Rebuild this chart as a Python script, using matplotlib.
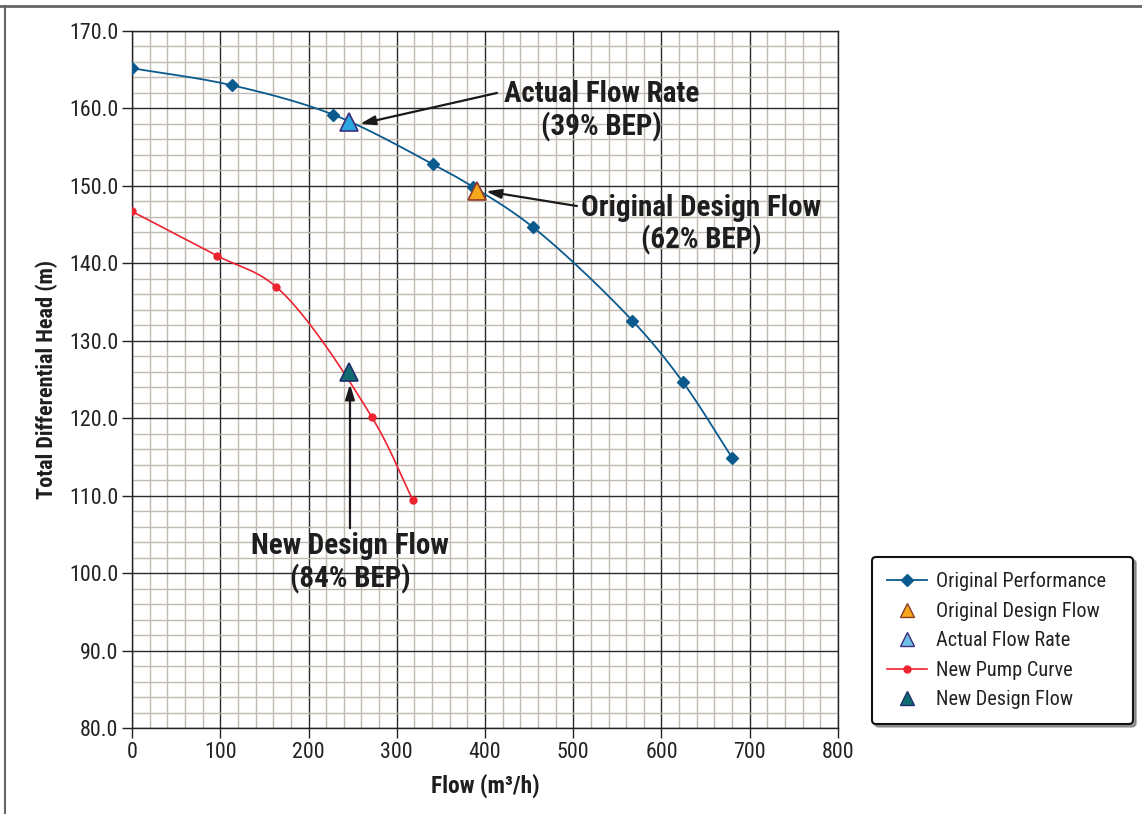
import numpy as np
import matplotlib
matplotlib.use("Agg")
import matplotlib.pyplot as plt
from matplotlib import font_manager as fm
from matplotlib.lines import Line2D
from matplotlib.ticker import MultipleLocator

# ---------------- data ----------------
orig_flow = [0, 113, 228, 341, 386, 454, 567, 624, 680]
orig_head = [165.2, 163.0, 159.2, 152.8, 149.9, 144.7, 132.6, 124.7, 114.9]

new_flow = [0, 96, 163, 272, 318]
new_head = [146.7, 141.0, 137.0, 120.1, 109.5]

orig_design = (391, 149.4)
actual_rate = (246, 158.2)
new_design = (246, 126.0)

legend_labels = ["Original Performance", "Original Design Flow", "Actual Flow Rate",
                 "New Pump Curve", "New Design Flow"]
x_ticks = [0, 100, 200, 300, 400, 500, 600, 700, 800]
y_ticks = [80, 90, 100, 110, 120, 130, 140, 150, 160, 170]

# ---------------- fonts ----------------
names = {f.name for f in fm.fontManager.ttflist}
FONT, STRETCH, SCALE = "DejaVu Sans", "condensed", 0.87
for cand in ["Roboto Condensed", "Liberation Sans Narrow", "Open Sans Condensed"]:
    if cand in names:
        FONT, STRETCH, SCALE = cand, "normal", 1.0
        break
plt.rcParams["font.family"] = [FONT, "DejaVu Sans"]


def fs(v):
    return v * SCALE


def smooth(xs, ys, n=40, alpha=0.5):
    """Centripetal Catmull-Rom smoothing of the drawn line through the given points."""
    P = np.column_stack([np.asarray(xs, float) / 800.0 * 706,
                         np.asarray(ys, float) / 90.0 * 697])
    P = np.vstack([2 * P[0] - P[1], P, 2 * P[-1] - P[-2]])
    out = []
    for i in range(1, len(P) - 2):
        p0, p1, p2, p3 = P[i - 1], P[i], P[i + 1], P[i + 2]
        t0 = 0.0
        t1 = t0 + np.linalg.norm(p1 - p0) ** alpha
        t2 = t1 + np.linalg.norm(p2 - p1) ** alpha
        t3 = t2 + np.linalg.norm(p3 - p2) ** alpha
        t = np.linspace(t1, t2, n, endpoint=False)[:, None]
        a1 = (t1 - t) / (t1 - t0) * p0 + (t - t0) / (t1 - t0) * p1
        a2 = (t2 - t) / (t2 - t1) * p1 + (t - t1) / (t2 - t1) * p2
        a3 = (t3 - t) / (t3 - t2) * p2 + (t - t2) / (t3 - t2) * p3
        b1 = (t2 - t) / (t2 - t0) * a1 + (t - t0) / (t2 - t0) * a2
        b2 = (t3 - t) / (t3 - t1) * a2 + (t - t1) / (t3 - t1) * a3
        c = (t2 - t) / (t2 - t1) * b1 + (t - t1) / (t2 - t1) * b2
        out.append(c)
    out.append(P[-2][None, :])
    out = np.vstack(out)
    return out[:, 0] / 706 * 800.0, out[:, 1] / 697 * 90.0


W, H = 1142, 814
fig = plt.figure(figsize=(W / 100, H / 100), dpi=100)
ax = fig.add_axes([132 / W, 1 - 728 / H, (838 - 132) / W, (728 - 31) / H])

BLUE = "#0b5a8e"
RED = "#ee2330"

# grid
ax.set_xlim(0, 800)
ax.set_ylim(80, 170)
ax.xaxis.set_major_locator(MultipleLocator(100))
ax.yaxis.set_major_locator(MultipleLocator(10))
ax.xaxis.set_minor_locator(MultipleLocator(20))
ax.yaxis.set_minor_locator(MultipleLocator(2))
ax.grid(which="minor", color="#c2b9b0", linewidth=1.0, zorder=0)
ax.grid(which="major", color="#2b2b2b", linewidth=1.0, zorder=0.5)
ax.set_axisbelow(True)
ax.tick_params(which="minor", length=0)
ax.tick_params(which="major", length=7, width=1, color="#222222", pad=3,
               labelsize=fs(15.8), labelcolor="#222222")
for s in ax.spines.values():
    s.set_color("#222222")
    s.set_linewidth(1.0)

ax.set_xticks(x_ticks)
ax.set_yticks(y_ticks)
ax.set_xticklabels([str(v) for v in x_ticks], fontstretch=STRETCH)
ax.set_yticklabels([f"{v:.1f}" for v in y_ticks], fontstretch=STRETCH)

# curves
sx, sy = smooth(orig_flow, orig_head)
ax.plot(sx, sy, color=BLUE, linewidth=1.3, zorder=3)
ax.plot(orig_flow, orig_head, linestyle="none", marker="D", markersize=6,
        color=BLUE, zorder=4)
rx, ry = smooth(new_flow, new_head)
ax.plot(rx, ry, color=RED, linewidth=1.2, zorder=3)
ax.plot(new_flow, new_head, linestyle="none", marker="o", markersize=5,
        color=RED, zorder=4)

ax.plot(*orig_design, marker="^", markersize=13, markerfacecolor="#f6a81c",
        markeredgecolor="#8e3b2b", markeredgewidth=1.2, linestyle="none", zorder=5)
ax.plot(*actual_rate, marker="^", markersize=13, markerfacecolor="#2aa6e0",
        markeredgecolor="#3b2f7d", markeredgewidth=1.2, linestyle="none", zorder=5)
ax.plot(*new_design, marker="^", markersize=13, markerfacecolor="#0f6d72",
        markeredgecolor="#1f2d6b", markeredgewidth=1.2, linestyle="none", zorder=5)

# annotations
arrow = dict(arrowstyle="-|>,head_length=0.9,head_width=0.28", color="#1a1a1a",
             linewidth=1.6, shrinkA=0, shrinkB=0)
ax.annotate("", xy=(258.4, 158.0), xytext=(413.6, 162.0), arrowprops=arrow, zorder=6)
ax.annotate("", xy=(401.1, 149.3), xytext=(504.2, 147.4), arrowprops=arrow, zorder=6)
ax.annotate("", xy=(247, 124.4), xytext=(247, 105.8), arrowprops=arrow, zorder=6)

tkw = dict(ha="center", va="center", fontsize=fs(21), fontweight="bold",
           color="#1e1e1e", multialignment="center", fontstretch=STRETCH,
           linespacing=1.15, zorder=7)
ax.text(532, 159.7, "Actual Flow Rate\n(39% BEP)", **tkw)
ax.text(645, 145.0, "Original Design Flow\n(62% BEP)", **tkw)
ax.text(247, 101.3, "New Design Flow\n(84% BEP)", **tkw)

# axis labels
ax.set_xlabel("Flow (m³/h)", fontsize=fs(16.8), fontweight="bold", color="#1e1e1e",
              labelpad=8, fontstretch=STRETCH)
ax.set_ylabel("Total Differential Head (m)", fontsize=fs(16), fontweight="bold",
              color="#1e1e1e", labelpad=8, fontstretch=STRETCH)

# legend
handles = [
    Line2D([], [], color=BLUE, marker="D", markersize=6, linewidth=1.3),
    Line2D([], [], linestyle="none", marker="^", markersize=10,
           markerfacecolor="#f6a81c", markeredgecolor="#8e3b2b"),
    Line2D([], [], linestyle="none", marker="^", markersize=10,
           markerfacecolor="#6cc0e6", markeredgecolor="#3b2f7d"),
    Line2D([], [], color=RED, marker="o", markersize=5, linewidth=1.2),
    Line2D([], [], linestyle="none", marker="^", markersize=10,
           markerfacecolor="#0f6d72", markeredgecolor="#1f2d6b"),
]
leg = fig.legend(handles, legend_labels, loc="upper left",
                 bbox_to_anchor=(872 / W, 1 - 727 / H, (1133 - 872) / W, (727 - 557) / H),
                 mode="expand", borderaxespad=0,
                 frameon=True, fancybox=True, shadow=True,
                 labelspacing=0.52, handlelength=2.0, handletextpad=0.45,
                 borderpad=0.72, prop={"family": [FONT], "stretch": STRETCH, "size": fs(14.6)})
for t in leg.get_texts():
    t.set_color("#222222")
frame = leg.get_frame()
frame.set_edgecolor("#111111")
frame.set_linewidth(1.5)

# figure border lines (top and left)
fig.add_artist(Line2D([0, 1], [1 - 6 / H, 1 - 6 / H], color="#666666", linewidth=2,
                      transform=fig.transFigure))
fig.add_artist(Line2D([5 / W, 5 / W], [0, 1 - 6 / H], color="#666666", linewidth=1.5,
                      transform=fig.transFigure))

fig.savefig("out.png", dpi=100)
